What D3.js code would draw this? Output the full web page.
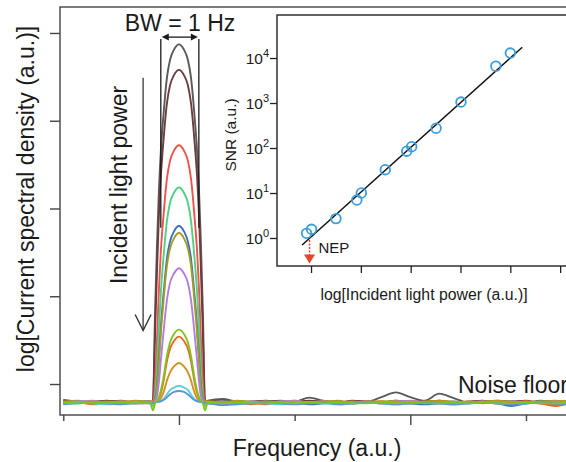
<!DOCTYPE html>
<html><head><meta charset="utf-8">
<script src="https://cdn.jsdelivr.net/npm/d3@7"></script>
<style>html,body{margin:0;padding:0;background:#fff;}svg{display:block;font-family:"Liberation Sans",Arial,Helvetica,sans-serif;}</style>
</head><body>
<script>
// ---------- DATA ----------
// Main plot: spectra, frequency in a.u. (0 = modulation frequency), level in decades (log scale)
const xTickMajor = [0, 2];
const xTickMinor = [-1, 1, 3];
const yTicks = [0, 1, 2, 3, 4];
const seriesNames = ["P12","P11","P10","P9","P8","P7","P6","P5","P4","P3","P2","P1"];
const seriesColors = ["#5a5a5a","#6e3c3c","#ef5349","#4fd083","#3d6cc0","#a39c22","#b17ee0","#7cc61f","#f26423","#d3901c","#5ccfe2","#5b95d4"];
const drawOrder = [0,1,2,3,4,5,6,8,9,10,11,7];
// peak profile: offsets from center (one side, peaks are symmetric)
const peakOffsets = [0, 0.043, 0.078, 0.104, 0.121, 0.138, 0.156, 0.173, 0.19, 0.207, 0.225];
const peakProfiles = [
  [3.87, 3.81, 3.69, 3.49, 3.27, 3.00, 2.67, 2.22, 1.58, 0.81, -0.205],
  [3.58, 3.52, 3.40, 3.20, 2.98, 2.71, 2.38, 1.93, 1.29, 0.56, -0.205],
  [2.72, 2.66, 2.54, 2.34, 2.12, 1.85, 1.53, 1.09, 0.51, 0.02, -0.205],
  [2.24, 2.18, 2.06, 1.86, 1.64, 1.38, 1.06, 0.65, 0.17, -0.12, -0.25],
  [1.80, 1.74, 1.62, 1.43, 1.21, 0.96, 0.66, 0.31, -0.03, -0.17, -0.215],
  [1.72, 1.66, 1.54, 1.35, 1.14, 0.88, 0.59, 0.25, -0.05, -0.18, -0.20],
  [1.32, 1.26, 1.15, 0.96, 0.76, 0.53, 0.28, 0.03, -0.14, -0.19, -0.21],
  [0.62, 0.57, 0.47, 0.32, 0.18, 0.04, -0.07, -0.15, -0.19, -0.22, -0.30],
  [0.54, 0.49, 0.40, 0.26, 0.13, 0.00, -0.10, -0.16, -0.20, -0.21, -0.21],
  [0.24, 0.20, 0.13, 0.04, -0.04, -0.11, -0.16, -0.19, -0.20, -0.205, -0.20],
  [-0.02, -0.04, -0.07, -0.12, -0.15, -0.175, -0.19, -0.20, -0.205, -0.21, -0.22],
  [-0.08, -0.09, -0.12, -0.15, -0.17, -0.185, -0.196, -0.20, -0.205, -0.21, -0.22]
];
const floorFreqLeft = [-1.0, -0.875, -0.75, -0.625, -0.5, -0.375, -0.25];
const floorFreqRight = [0.25, 0.375, 0.5, 0.625, 0.75, 0.875, 1.0, 1.125, 1.25, 1.375, 1.5, 1.625, 1.75, 1.875, 2.0, 2.125, 2.25, 2.375, 2.5, 2.625, 2.75, 2.875, 3.0, 3.125, 3.25, 3.375];
const floorLeft = [
  [-0.18,-0.20,-0.21,-0.20,-0.19,-0.21,-0.20],
  [-0.19,-0.21,-0.20,-0.19,-0.21,-0.20,-0.20],
  [-0.21,-0.20,-0.22,-0.21,-0.20,-0.22,-0.21],
  [-0.20,-0.21,-0.20,-0.22,-0.21,-0.20,-0.21],
  [-0.22,-0.21,-0.20,-0.21,-0.22,-0.21,-0.22],
  [-0.20,-0.19,-0.21,-0.20,-0.21,-0.19,-0.20],
  [-0.21,-0.20,-0.19,-0.21,-0.20,-0.21,-0.20],
  [-0.21,-0.22,-0.21,-0.22,-0.21,-0.22,-0.21],
  [-0.22,-0.21,-0.23,-0.22,-0.21,-0.22,-0.21],
  [-0.20,-0.21,-0.20,-0.21,-0.20,-0.20,-0.21],
  [-0.22,-0.21,-0.22,-0.23,-0.22,-0.21,-0.22],
  [-0.23,-0.22,-0.21,-0.22,-0.23,-0.22,-0.22]
];
const floorRight = [
  [-0.19,-0.17,-0.20,-0.21,-0.20,-0.19,-0.20,-0.155,-0.19,-0.21,-0.20,-0.20,-0.15,-0.095,-0.15,-0.19,-0.11,-0.16,-0.21,-0.20,-0.19,-0.20,-0.21,-0.19,-0.20,-0.21],
  [-0.20,-0.19,-0.21,-0.20,-0.19,-0.21,-0.20,-0.19,-0.20,-0.21,-0.19,-0.20,-0.21,-0.19,-0.20,-0.20,-0.19,-0.21,-0.20,-0.19,-0.21,-0.20,-0.19,-0.21,-0.20,-0.20],
  [-0.21,-0.22,-0.20,-0.21,-0.23,-0.21,-0.20,-0.22,-0.21,-0.20,-0.22,-0.21,-0.20,-0.22,-0.21,-0.20,-0.21,-0.23,-0.21,-0.20,-0.22,-0.21,-0.20,-0.22,-0.24,-0.21],
  [-0.21,-0.20,-0.21,-0.22,-0.20,-0.21,-0.22,-0.21,-0.20,-0.21,-0.22,-0.20,-0.21,-0.20,-0.22,-0.21,-0.20,-0.21,-0.22,-0.21,-0.20,-0.21,-0.22,-0.20,-0.21,-0.21],
  [-0.22,-0.23,-0.21,-0.22,-0.20,-0.22,-0.21,-0.23,-0.22,-0.21,-0.22,-0.21,-0.22,-0.21,-0.22,-0.23,-0.22,-0.21,-0.22,-0.21,-0.22,-0.25,-0.22,-0.21,-0.22,-0.21],
  [-0.20,-0.21,-0.19,-0.20,-0.21,-0.20,-0.19,-0.21,-0.20,-0.19,-0.21,-0.20,-0.20,-0.19,-0.21,-0.20,-0.19,-0.20,-0.21,-0.20,-0.19,-0.20,-0.21,-0.20,-0.19,-0.20],
  [-0.21,-0.20,-0.22,-0.20,-0.21,-0.20,-0.19,-0.21,-0.20,-0.22,-0.21,-0.20,-0.21,-0.20,-0.19,-0.21,-0.22,-0.20,-0.21,-0.20,-0.21,-0.20,-0.21,-0.22,-0.20,-0.21],
  [-0.21,-0.22,-0.21,-0.22,-0.22,-0.21,-0.22,-0.21,-0.22,-0.21,-0.22,-0.22,-0.21,-0.22,-0.21,-0.22,-0.22,-0.21,-0.22,-0.21,-0.22,-0.22,-0.21,-0.22,-0.22,-0.21],
  [-0.21,-0.22,-0.21,-0.23,-0.21,-0.22,-0.21,-0.22,-0.21,-0.22,-0.21,-0.20,-0.22,-0.21,-0.22,-0.21,-0.20,-0.22,-0.21,-0.22,-0.21,-0.22,-0.21,-0.22,-0.25,-0.22],
  [-0.20,-0.21,-0.20,-0.21,-0.20,-0.21,-0.20,-0.21,-0.20,-0.21,-0.20,-0.21,-0.20,-0.21,-0.20,-0.21,-0.20,-0.21,-0.20,-0.21,-0.20,-0.21,-0.20,-0.21,-0.20,-0.21],
  [-0.22,-0.23,-0.22,-0.21,-0.22,-0.23,-0.22,-0.21,-0.22,-0.23,-0.22,-0.21,-0.22,-0.23,-0.22,-0.21,-0.22,-0.23,-0.22,-0.21,-0.22,-0.23,-0.22,-0.21,-0.22,-0.23],
  [-0.22,-0.24,-0.23,-0.22,-0.21,-0.22,-0.23,-0.22,-0.21,-0.23,-0.22,-0.21,-0.22,-0.23,-0.22,-0.21,-0.22,-0.23,-0.22,-0.21,-0.22,-0.23,-0.22,-0.21,-0.22,-0.23]
];
const bwEdges = [-0.157, 0.172];      // BW = 1 Hz markers (frequency a.u.)
const bwLevels = [1.78, 3.93];        // vertical extent (decades)
const powerArrowLevels = [3.49, 0.61];// "Incident light power" arrow
const powerArrowFreq = -0.31;

// Inset: SNR vs log incident power
const insetXTicks = [0, 1, 2, 3, 4, 5];
const insetYTicks = [1, 10, 100, 1000, 10000];
const logPower = [-0.09, 0.01, 0.5, 0.92, 1.01, 1.49, 1.92, 2.02, 2.51, 3.01, 3.71, 4.0];
const snr =      [1.27, 1.56, 2.7, 7.0, 10.0, 33, 85, 107, 275, 1050, 6600, 12900];
const fitLogPower = [-0.18, 4.24];
const fitSNR = [0.70, 17400];
const nepLogPower = -0.03;
const nepSNR = [1.0, 0.27];

// ---------- DRAW ----------
const W = 566, H = 462;
const svg = d3.select("body").append("svg").attr("width", W).attr("height", H);
const x = d3.scaleLinear().domain([-1.0285, 3.64]).range([60, 600]);
const y = d3.scaleLinear().domain([-0.353, 4.296]).range([415, 7]);
const ink = "#1a1a1a";

svg.append("defs").append("clipPath").attr("id","plotclip")
  .append("rect").attr("x",60).attr("y",7).attr("width",540).attr("height",408);

// curves
const line = d3.line().x(d => x(d[0])).y(d => y(d[1])).curve(d3.curveMonotoneX);
function spectrum(i) {
  const pts = [];
  floorFreqLeft.forEach((f, j) => pts.push([f, floorLeft[i][j]]));
  for (let k = peakOffsets.length - 1; k > 0; k--) pts.push([-peakOffsets[k], peakProfiles[i][k]]);
  for (let k = 0; k < peakOffsets.length; k++) pts.push([peakOffsets[k], peakProfiles[i][k]]);
  floorFreqRight.forEach((f, j) => pts.push([f, floorRight[i][j]]));
  return pts;
}
const gCurves = svg.append("g").attr("clip-path","url(#plotclip)");
drawOrder.forEach(i => {
  gCurves.append("path").datum(spectrum(i))
    .attr("d", line).attr("fill","none")
    .attr("stroke", seriesColors[i]).attr("stroke-width", 1.9)
    .attr("stroke-linejoin","round");
});

// frame
svg.append("rect").attr("x",60).attr("y",7).attr("width",560).attr("height",408)
  .attr("fill","none").attr("stroke","#444").attr("stroke-width",1.4);

// axes ticks
const yAxis = d3.axisLeft(y).tickValues(yTicks).tickSize(10).tickFormat("");
const gy = svg.append("g").attr("transform","translate(60,0)").call(yAxis);
const xMaj = d3.axisBottom(x).tickValues(xTickMajor).tickSize(10).tickFormat("");
const xMin = d3.axisBottom(x).tickValues(xTickMinor).tickSize(6).tickFormat("");
const gx1 = svg.append("g").attr("transform","translate(0,415)").call(xMaj);
const gx2 = svg.append("g").attr("transform","translate(0,415)").call(xMin);
[gy, gx1, gx2].forEach(g => { g.select(".domain").remove(); g.selectAll("line").attr("stroke","#444").attr("stroke-width",1.4); });

// axis titles
svg.append("text").attr("x", 317).attr("y", 456).attr("text-anchor","middle")
  .attr("font-size", 23).attr("fill", ink).text("Frequency (a.u.)");
svg.append("text").attr("transform","translate(34,199) rotate(-90)").attr("text-anchor","middle")
  .attr("font-size", 23).attr("fill", ink).text("log[Current spectral density (a.u.)]");

// BW annotation
const bwG = svg.append("g").attr("stroke", ink).attr("stroke-width", 1.3);
bwEdges.forEach(f => bwG.append("line").attr("x1", x(f)).attr("x2", x(f)).attr("y1", y(bwLevels[1])).attr("y2", y(bwLevels[0])));
const by = y(bwLevels[1]) - 2, bx1 = x(bwEdges[0]) + 1, bx2 = x(bwEdges[1]) - 1;
bwG.append("line").attr("x1", bx1 + 5).attr("x2", bx2 - 5).attr("y1", by).attr("y2", by);
svg.append("path").attr("fill", ink)
  .attr("d", `M${bx1},${by}L${bx1+7},${by-3.5}L${bx1+7},${by+3.5}Z M${bx2},${by}L${bx2-7},${by-3.5}L${bx2-7},${by+3.5}Z`);
svg.append("text").attr("x", 180).attr("y", 31).attr("text-anchor","middle")
  .attr("font-size", 23).attr("fill", ink).text("BW = 1 Hz");

// Incident light power arrow
const ax = x(powerArrowFreq), ay1 = y(powerArrowLevels[0]), ay2 = y(powerArrowLevels[1]);
svg.append("line").attr("x1", ax).attr("x2", ax).attr("y1", ay1).attr("y2", ay2)
  .attr("stroke", "#444").attr("stroke-width", 1.4);
svg.append("path").attr("d", `M${ax-8},${ay2-16}L${ax},${ay2}L${ax+8},${ay2-16}`)
  .attr("fill","none").attr("stroke","#333").attr("stroke-width",1.4);
svg.append("text").attr("transform","translate(127,185) rotate(-90)").attr("text-anchor","middle")
  .attr("font-size", 23).attr("fill", ink).text("Incident light power");

// Noise floor label (cut at the right edge, as in the reference)
svg.append("text").attr("x", 458).attr("y", 393).attr("font-size", 23).attr("fill", ink).text("Noise floor");

// ---------- INSET ----------
const ix = d3.scaleLinear().domain([-0.683, 5.8]).range([277, 600]);
const iy = d3.scaleLog().domain([Math.pow(10, -0.622), Math.pow(10, 4.956)]).range([266, 15]);
svg.append("rect").attr("x",277).attr("y",15).attr("width",330).attr("height",251)
  .attr("fill","#fff").attr("stroke","#222").attr("stroke-width",1.4);
const ixAxis = d3.axisBottom(ix).tickValues(insetXTicks).tickSize(7).tickFormat("");
const iyAxis = d3.axisLeft(iy).tickValues(insetYTicks).tickSize(7).tickFormat("");
const gix = svg.append("g").attr("transform","translate(0,266)").call(ixAxis);
const giy = svg.append("g").attr("transform","translate(277,0)").call(iyAxis);
[gix, giy].forEach(g => { g.select(".domain").remove(); g.selectAll("line").attr("stroke","#222").attr("stroke-width",1.3); });
insetYTicks.forEach(v => {
  const t = svg.append("text").attr("x", 269).attr("y", iy(v) + 5.5).attr("text-anchor","end")
    .attr("font-size", 15.5).attr("fill", ink);
  t.append("tspan").text("10");
  t.append("tspan").attr("dy", -6.5).attr("font-size", 11).text(String(Math.round(Math.log10(v))));
});
svg.append("text").attr("x", 424).attr("y", 300).attr("text-anchor","middle")
  .attr("font-size", 15.8).attr("fill", ink).text("log[Incident light power (a.u.)]");
svg.append("text").attr("transform","translate(236,135) rotate(-90)").attr("text-anchor","middle")
  .attr("font-size", 15.5).attr("fill", ink).text("SNR (a.u.)");

// fit line
svg.append("line").attr("x1", ix(fitLogPower[0])).attr("y1", iy(fitSNR[0]))
  .attr("x2", ix(fitLogPower[1])).attr("y2", iy(fitSNR[1]))
  .attr("stroke", "#111").attr("stroke-width", 1.5);
// points
svg.append("g").selectAll("circle").data(logPower.map((p, i) => [p, snr[i]])).join("circle")
  .attr("cx", d => ix(d[0])).attr("cy", d => iy(d[1])).attr("r", 4.8)
  .attr("fill","none").attr("stroke","#3a9ddc").attr("stroke-width",1.8);
// NEP
const nx = ix(nepLogPower), ny1 = iy(nepSNR[0]) + 2, ny2 = iy(nepSNR[1]);
svg.append("line").attr("x1", nx).attr("x2", nx).attr("y1", ny1).attr("y2", ny2 - 8)
  .attr("stroke", "#e5432c").attr("stroke-width", 1.5).attr("stroke-dasharray","2,1.5");
svg.append("path").attr("d", `M${nx-5.5},${ny2-9}L${nx+5.5},${ny2-9}L${nx},${ny2}Z`).attr("fill","#e5432c");
svg.append("text").attr("x", nx + 9).attr("y", iy(nepSNR[0]) + 15).attr("font-size", 15).attr("fill", ink).text("NEP");
</script>
</body></html>
